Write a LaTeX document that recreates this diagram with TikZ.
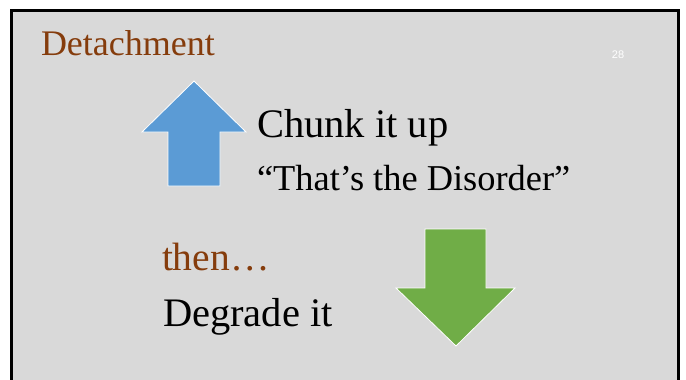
\documentclass[tikz,border=0pt]{standalone}
\usepackage{fontspec}
\setmainfont{Liberation Serif}
\setsansfont{Liberation Sans}
\usepackage{xcolor}
\definecolor{slidebg}{RGB}{217,217,217}
\definecolor{titlebrown}{RGB}{133,60,12}
\definecolor{upblue}{RGB}{91,155,213}
\definecolor{downgreen}{RGB}{112,173,71}
\begin{document}
\begin{tikzpicture}[x=1pt,y=-1pt,
  txt/.style={anchor=base west,inner sep=0pt,outer sep=0pt},
  arrowshape/.style={draw=white,line width=0.8pt,line join=miter}]
\useasboundingbox (0,0) rectangle (686,380);
\begin{scope}
\clip (0,0) rectangle (686,380);
\fill[white] (0,0) rectangle (686,380);
\draw[fill=slidebg,line width=3pt] (11.5,10.5) rectangle (678.5,395);
\end{scope}
% title and page number
\node[txt,font=\fontsize{36}{40}\selectfont,text=titlebrown] (title) at (41,55) {Detachment};
\node[inner sep=0pt,font=\sffamily\fontsize{11}{12}\selectfont,text=white] (page) at (618,55) {28};
% blue up arrow
\fill[upblue,arrowshape] (194,81) -- (246,132) -- (220,132) -- (220,186) -- (168,186) -- (168,132) -- (142,132) -- cycle;
% green down arrow
\fill[downgreen,arrowshape] (425,229) -- (486,229) -- (486,288) -- (515,288) -- (456,346) -- (396,288) -- (425,288) -- cycle;
% texts
\node[txt,font=\fontsize{40.5}{44}\selectfont] (chunk) at (257,137) {Chunk it up};
\node[txt,font=\fontsize{36.4}{40}\selectfont] (disorder) at (257,190) {“That’s the Disorder”};
\node[txt,font=\fontsize{39.5}{44}\selectfont,text=titlebrown] (then) at (162,270) {then…};
\node[txt,font=\fontsize{40.5}{44}\selectfont] (degrade) at (163,326) {Degrade it};
\end{tikzpicture}
\end{document}
